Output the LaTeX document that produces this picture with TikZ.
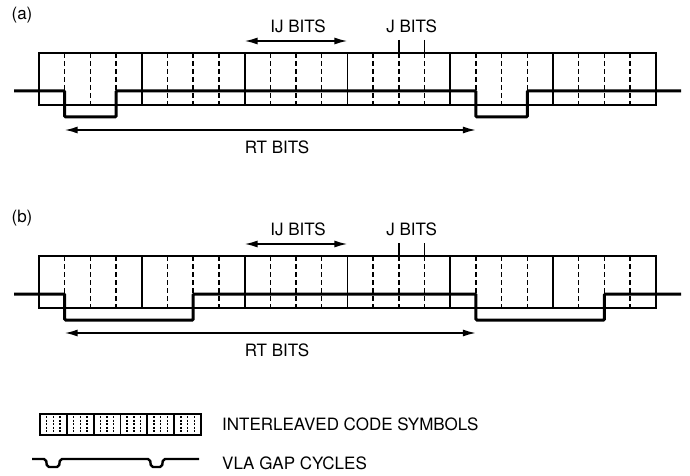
\documentclass[tikz,border=0pt]{standalone}
\usepackage{fontspec}
\setmainfont{TeX Gyre Heros}
\usetikzlibrary{arrows.meta}
\newcommand\drawpanel[5]{% #1 y offset, #2 name prefix, #3 label, #4 first dip end (quarter), #5 second dip end (quarter)
\begin{scope}[shift={(0,#1)}]
  \node[lbl] (#2lab) at (22,15) {#3};
  \draw[box] (39,53) rectangle (655.8,105);
  \foreach \k in {1,...,23}{
    \pgfmathtruncatemacro\m{mod(\k,4)}
    \ifnum\m=0
      \draw[sep] (39+\k*25.7,53) -- (39+\k*25.7,105);
    \else
      \draw[dsh] (39+\k*25.7,53) -- (39+\k*25.7,105);
    \fi
  }
  \pgfmathsetmacro\xa{39+25.7}
  \pgfmathsetmacro\xb{39+#4*25.7}
  \pgfmathsetmacro\xc{39+17*25.7}
  \pgfmathsetmacro\xd{39+#5*25.7}
  \draw[sig] (14,91) -- (\xa,91) -- (\xa,117) -- (\xb,117) -- (\xb,91) -- (\xc,91) -- (\xc,117) -- (\xd,117) -- (\xd,91) -- (681,91);
  % IJ bits
  \coordinate (#2ija) at (39+8*25.7,41);
  \coordinate (#2ijb) at (39+12*25.7,41);
  \draw[dim] (#2ija) -- (#2ijb);
  \node[lbl] (#2ij) at (298,26) {IJ BITS};
  % J bits
  \coordinate (#2ja) at (39+14*25.7,40);
  \coordinate (#2jb) at (39+15*25.7,40);
  \draw[box] (#2ja) -- ++(0,13);
  \draw[box] (#2jb) -- ++(0,13);
  \node[lbl] (#2j) at (411.7,26) {J BITS};
  % RT bits
  \coordinate (#2rta) at (\xa,130);
  \coordinate (#2rtb) at (\xc,130);
  \draw[dim] (#2rta) -- (#2rtb);
  \node[lbl] (#2rt) at (277,147) {RT BITS};
\end{scope}}
\begin{document}
\begin{tikzpicture}[x=1pt,y=-1pt,
  box/.style={line width=1.8pt},
  sep/.style={line width=1.8pt},
  dsh/.style={line width=1.5pt,dash pattern=on 5pt off 3pt},
  sig/.style={line width=3pt,rounded corners=1pt},
  dim/.style={line width=1.6pt,{Latex[length=13pt,width=7pt]}-{Latex[length=13pt,width=7pt]}},
  lbl/.style={font=\fontsize{17}{20}\selectfont,inner sep=0pt},
  dot/.style={line width=1.4pt,dash pattern=on 2pt off 1.5pt},
]
\useasboundingbox (0,0) rectangle (690,476);
\drawpanel{0}{a}{(a)}{3}{19}
\drawpanel{203}{b}{(b)}{6}{22}
% legend
\draw[line width=1.8pt] (40,414) rectangle (201,435);
\foreach \i in {1,...,5}
  \draw[line width=1.8pt] (40+\i*26.83,414) -- (40+\i*26.83,435);
\foreach \i in {0,...,5}
  \foreach \j in {1,2,3}
    \draw[dot] (40+\i*26.83+\j*6.7,416) -- (40+\i*26.83+\j*6.7,434);
\draw[line width=2.4pt,rounded corners=2pt] (32,459) -- (46,459) -- (47,467) -- (59,467) -- (60,459) -- (150,459) -- (151,467) -- (162,467) -- (163,459) -- (199,459);
\node[lbl,anchor=west] (leg1) at (222,424) {INTERLEAVED CODE SYMBOLS};
\node[lbl,anchor=west] (leg2) at (222,463) {VLA GAP CYCLES};
\end{tikzpicture}
\end{document}
